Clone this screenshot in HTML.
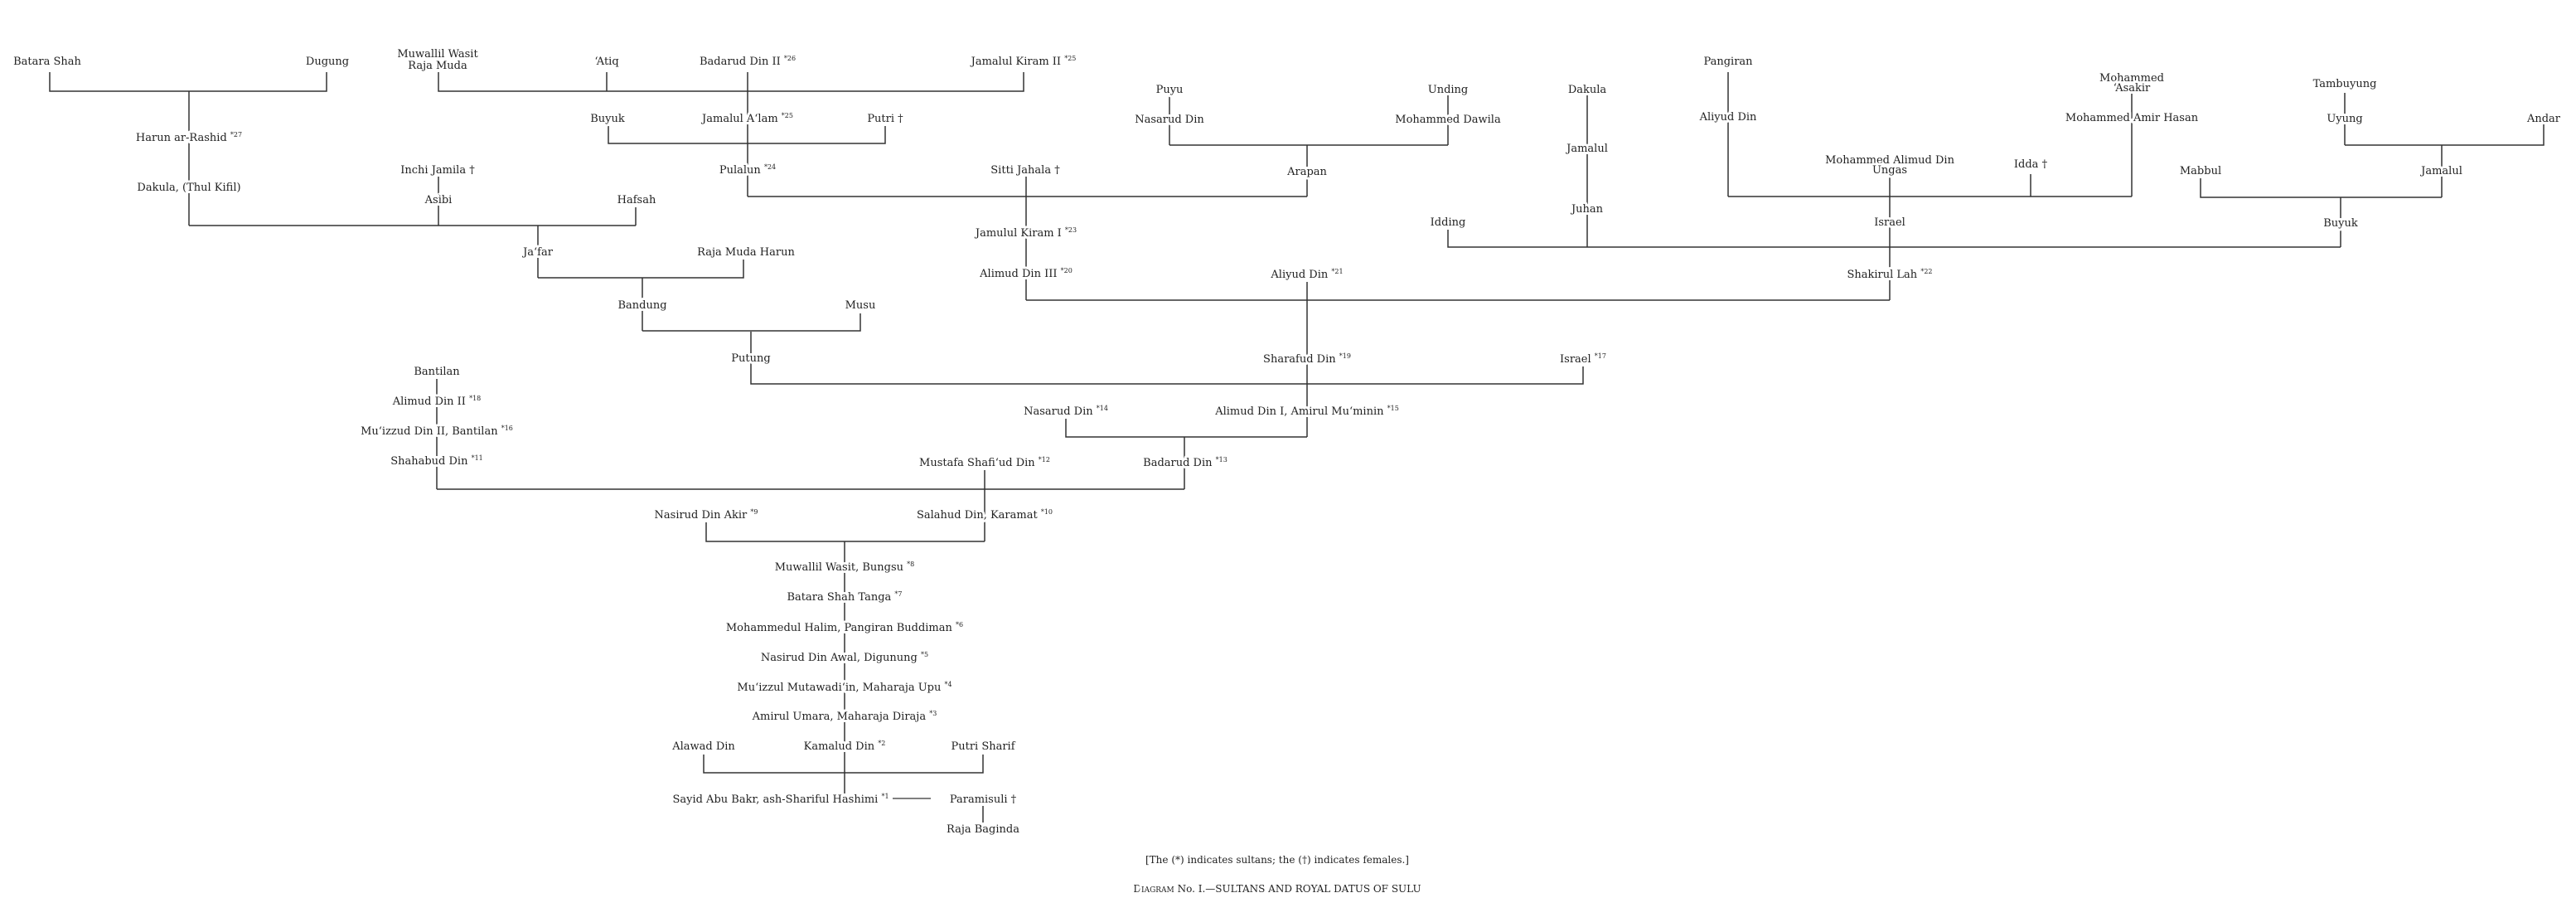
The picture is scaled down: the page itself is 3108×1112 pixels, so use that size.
<!DOCTYPE html>
<html><head><meta charset="utf-8"><style>
html,body{margin:0;padding:0;background:#fff}
svg{display:block}
text{font-family:"DejaVu Serif","Liberation Serif",serif;font-size:13px;fill:#222;text-anchor:middle;stroke:#fff;stroke-width:6px;paint-order:stroke;stroke-linejoin:round}
tspan.s{font-size:8px}
line,polyline{stroke:#333;stroke-width:1.5;fill:none}
</style></head><body>
<svg width="3108" height="1112" viewBox="0 0 3108 1112" xmlns="http://www.w3.org/2000/svg">
<g>
<polyline points="60,87 60,110 394,110 394,87"/>
<line x1="228" y1="110" x2="228" y2="272"/>
<line x1="228" y1="272" x2="767" y2="272"/>
<polyline points="529,87 529,110 1235,110 1235,87"/>
<line x1="732" y1="87" x2="732" y2="110"/>
<line x1="902" y1="87" x2="902" y2="237"/>
<polyline points="734,152 734,173 1068,173 1068,152"/>
<line x1="529" y1="213" x2="529" y2="272"/>
<line x1="767" y1="250" x2="767" y2="272"/>
<line x1="649" y1="272" x2="649" y2="335"/>
<polyline points="649,335 897,335 897,313"/>
<line x1="775" y1="335" x2="775" y2="399"/>
<polyline points="775,399 1038,399 1038,378"/>
<line x1="902" y1="237" x2="1577" y2="237"/>
<line x1="1238" y1="213" x2="1238" y2="362"/>
<line x1="1411" y1="115" x2="1411" y2="175"/>
<line x1="1747" y1="115" x2="1747" y2="175"/>
<line x1="1411" y1="175" x2="1747" y2="175"/>
<line x1="1577" y1="175" x2="1577" y2="237"/>
<line x1="1915" y1="115" x2="1915" y2="298"/>
<line x1="2085" y1="87" x2="2085" y2="237"/>
<line x1="2572" y1="113" x2="2572" y2="237"/>
<line x1="2085" y1="237" x2="2572" y2="237"/>
<line x1="2280" y1="212" x2="2280" y2="362"/>
<line x1="2450" y1="210" x2="2450" y2="237"/>
<line x1="2829" y1="112" x2="2829" y2="175"/>
<polyline points="2829,175 3069,175 3069,150"/>
<line x1="2946" y1="175" x2="2946" y2="238"/>
<polyline points="2655,215 2655,238 2946,238"/>
<line x1="2824" y1="238" x2="2824" y2="298"/>
<polyline points="1747,277 1747,298 2824,298"/>
<line x1="1238" y1="362" x2="2280" y2="362"/>
<line x1="1577" y1="340" x2="1577" y2="527"/>
<polyline points="906,400 906,463 1910,463 1910,442"/>
<polyline points="1286,505 1286,527 1577,527"/>
<line x1="1429" y1="527" x2="1429" y2="590"/>
<line x1="527" y1="457" x2="527" y2="590"/>
<line x1="527" y1="590" x2="1429" y2="590"/>
<line x1="1188" y1="567" x2="1188" y2="653"/>
<polyline points="852,630 852,653 1188,653"/>
<line x1="1019" y1="653" x2="1019" y2="957"/>
<polyline points="849,910 849,932 1186,932 1186,910"/>
<line x1="1077" y1="963" x2="1123" y2="963" style="stroke-width:1.2"/>
<line x1="1186" y1="972" x2="1186" y2="992"/>
</g>
<g>
<text x="57" y="78">Batara Shah</text>
<text x="395" y="78">Dugung</text>
<text x="528" y="69">Muwallil Wasit</text>
<text x="528" y="83">Raja Muda</text>
<text x="732" y="78">‘Atiq</text>
<text x="902" y="78">Badarud Din II <tspan class="s" dy="-5">*26</tspan></text>
<text x="1235" y="78">Jamalul Kiram II <tspan class="s" dy="-5">*25</tspan></text>
<text x="228" y="170">Harun ar-Rashid <tspan class="s" dy="-5">*27</tspan></text>
<text x="228" y="230">Dakula, (Thul Kifil)</text>
<text x="733" y="147">Buyuk</text>
<text x="902" y="147">Jamalul A‘lam <tspan class="s" dy="-5">*25</tspan></text>
<text x="1068" y="147">Putri †</text>
<text x="528" y="209">Inchi Jamila †</text>
<text x="902" y="209">Pulalun <tspan class="s" dy="-5">*24</tspan></text>
<text x="1237" y="209">Sitti Jahala †</text>
<text x="529" y="245">Asibi</text>
<text x="768" y="245">Hafsah</text>
<text x="649" y="308">Ja‘far</text>
<text x="900" y="308">Raja Muda Harun</text>
<text x="775" y="372">Bandung</text>
<text x="1038" y="372">Musu</text>
<text x="1238" y="285">Jamulul Kiram I <tspan class="s" dy="-5">*23</tspan></text>
<text x="1238" y="334">Alimud Din III <tspan class="s" dy="-5">*20</tspan></text>
<text x="1411" y="112">Puyu</text>
<text x="1747" y="112">Unding</text>
<text x="1411" y="148">Nasarud Din</text>
<text x="1747" y="148">Mohammed Dawila</text>
<text x="1577" y="211">Arapan</text>
<text x="1915" y="112">Dakula</text>
<text x="1915" y="183">Jamalul</text>
<text x="1915" y="256">Juhan</text>
<text x="2085" y="78">Pangiran</text>
<text x="2085" y="145">Aliyud Din</text>
<text x="2572" y="98">Mohammed</text>
<text x="2572" y="110">‘Asakir</text>
<text x="2572" y="146">Mohammed Amir Hasan</text>
<text x="2280" y="197">Mohammed Alimud Din</text>
<text x="2280" y="209">Ungas</text>
<text x="2450" y="202">Idda †</text>
<text x="2829" y="105">Tambuyung</text>
<text x="2829" y="147">Uyung</text>
<text x="3069" y="147">Andar</text>
<text x="2655" y="210">Mabbul</text>
<text x="2946" y="210">Jamalul</text>
<text x="1747" y="272">Idding</text>
<text x="2280" y="272">Israel</text>
<text x="2824" y="273">Buyuk</text>
<text x="1577" y="335">Aliyud Din <tspan class="s" dy="-5">*21</tspan></text>
<text x="2280" y="335">Shakirul Lah <tspan class="s" dy="-5">*22</tspan></text>
<text x="906" y="436">Putung</text>
<text x="1577" y="437">Sharafud Din <tspan class="s" dy="-5">*19</tspan></text>
<text x="1910" y="437">Israel <tspan class="s" dy="-5">*17</tspan></text>
<text x="527" y="452">Bantilan</text>
<text x="527" y="488">Alimud Din II <tspan class="s" dy="-5">*18</tspan></text>
<text x="527" y="524">Mu‘izzud Din II, Bantilan <tspan class="s" dy="-5">*16</tspan></text>
<text x="527" y="560">Shahabud Din <tspan class="s" dy="-5">*11</tspan></text>
<text x="1286" y="500">Nasarud Din <tspan class="s" dy="-5">*14</tspan></text>
<text x="1577" y="500">Alimud Din I, Amirul Mu‘minin <tspan class="s" dy="-5">*15</tspan></text>
<text x="1188" y="562">Mustafa Shafi‘ud Din <tspan class="s" dy="-5">*12</tspan></text>
<text x="1430" y="562">Badarud Din <tspan class="s" dy="-5">*13</tspan></text>
<text x="852" y="625">Nasirud Din Akir <tspan class="s" dy="-5">*9</tspan></text>
<text x="1188" y="625">Salahud Din, Karamat <tspan class="s" dy="-5">*10</tspan></text>
<text x="1019" y="688">Muwallil Wasit, Bungsu <tspan class="s" dy="-5">*8</tspan></text>
<text x="1019" y="724">Batara Shah Tanga <tspan class="s" dy="-5">*7</tspan></text>
<text x="1019" y="761">Mohammedul Halim, Pangiran Buddiman <tspan class="s" dy="-5">*6</tspan></text>
<text x="1019" y="797">Nasirud Din Awal, Digunung <tspan class="s" dy="-5">*5</tspan></text>
<text x="1019" y="833">Mu‘izzul Mutawadi‘in, Maharaja Upu <tspan class="s" dy="-5">*4</tspan></text>
<text x="1019" y="868">Amirul Umara, Maharaja Diraja <tspan class="s" dy="-5">*3</tspan></text>
<text x="849" y="904">Alawad Din</text>
<text x="1019" y="904">Kamalud Din <tspan class="s" dy="-5">*2</tspan></text>
<text x="1186" y="904">Putri Sharif</text>
<text x="942" y="968">Sayid Abu Bakr, ash-Shariful Hashimi <tspan class="s" dy="-5">*1</tspan></text>
<text x="1186" y="968">Paramisuli †</text>
<text x="1186" y="1004">Raja Baginda</text>
<text x="1541" y="1041" style="font-size:12px">[The (*) indicates sultans; the (†) indicates females.]</text>
<text x="1541" y="1076" style="font-size:12px">D<tspan style="font-size:9px">IAGRAM</tspan> No. I.—SULTANS AND ROYAL DATUS OF SULU</text>
</g>
</svg>
</body></html>
